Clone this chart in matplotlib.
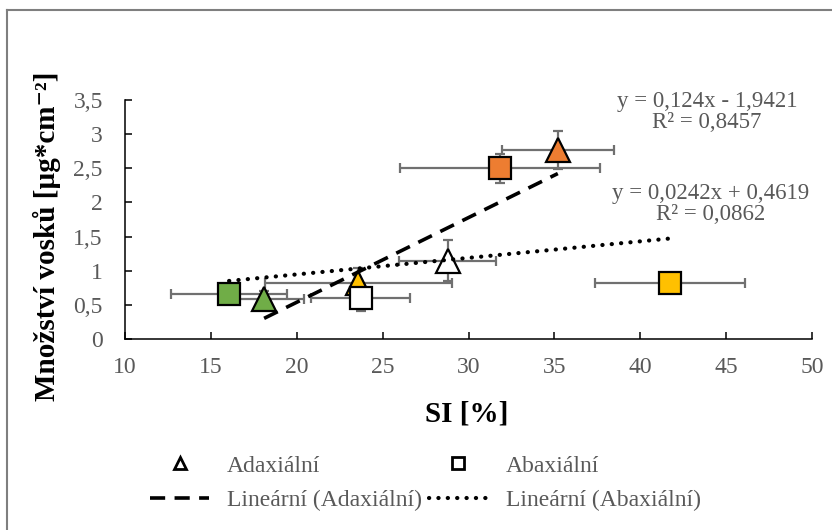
import matplotlib
matplotlib.use("Agg")
import matplotlib.pyplot as plt
from matplotlib.lines import Line2D
import numpy as np

# ---------------- data ----------------
ad_x = [18.1, 23.59, 28.78, 35.2]
ad_y = [0.586, 0.827, 1.145, 2.767]
ad_xerr = [2.34, 5.44, 2.84, 3.27]
ad_yerr = [0.12, 0.21, 0.30, 0.28]
ad_colors = ["#70AD47", "#FFC000", "#FFFFFF", "#ED7D31"]

ab_x = [16.06, 23.73, 31.85, 41.72]
ab_y = [0.654, 0.605, 2.499, 0.816]
ab_xerr = [3.40, 2.88, 5.83, 4.37]
ab_yerr = [0.10, 0.19, 0.21, 0.10]
ab_colors = ["#70AD47", "#FFFFFF", "#ED7D31", "#FFC000"]

ad_fit = [0.124, -1.9421]
ab_fit = [0.0242, 0.4619]
ad_eq = ["y = 0,124x - 1,9421", "R² = 0,8457"]
ab_eq = ["y = 0,0242x + 0,4619", "R² = 0,0862"]

x_ticks = [10, 15, 20, 25, 30, 35, 40, 45, 50]
y_ticks = [0, 0.5, 1, 1.5, 2, 2.5, 3, 3.5]
y_ticklabels = ["0", "0,5", "1", "1,5", "2", "2,5", "3", "3,5"]

xlabel = "SI [%]"
ylabel = "Množství vosků [µg*cm⁻²]"
legend_labels = ["Adaxiální", "Abaxiální", "Lineární (Adaxiální)", "Lineární (Abaxiální)"]

# ---------------- style ----------------
plt.rcParams["font.family"] = ["Liberation Serif", "DejaVu Serif"]

W, H = 832, 530
fig = plt.figure(figsize=(W / 100, H / 100), dpi=100)

def fx(px):
    return px / W

def fy(py):
    return 1 - py / H

ax = fig.add_axes([fx(125), fy(339), fx(812) - fx(125), fy(100) - fy(339)])
ax.set_xlim(10, 50)
ax.set_ylim(0, 3.5)

txt_gray = "#595959"
err_gray = "#707070"

# error bars
for xs, ys, xe, ye in [(ad_x, ad_y, ad_xerr, ad_yerr), (ab_x, ab_y, ab_xerr, ab_yerr)]:
    ax.errorbar(xs, ys, xerr=xe, yerr=ye, fmt="none", ecolor=err_gray,
                elinewidth=1.6, capsize=3.5, capthick=1.6, zorder=2)

# markers
for i in range(len(ad_x)):
    ax.plot(ad_x[i], ad_y[i], marker="^", ms=17, mfc=ad_colors[i], mec="black",
            mew=1.6, ls="none", zorder=3)
for i in range(len(ab_x)):
    ax.plot(ab_x[i], ab_y[i], marker="s", ms=15.5, mfc=ab_colors[i], mec="black",
            mew=1.6, ls="none", zorder=3)

# trendlines
xa = np.array([min(ad_x), max(ad_x)])
ax.plot(xa, ad_fit[0] * xa + ad_fit[1], color="black", lw=2.6,
        ls=(0, (4.2, 2.6)), zorder=4)
xb = np.array([min(ab_x), max(ab_x)])
ax.plot(xb, ab_fit[0] * xb + ab_fit[1], color="black", lw=3.0,
        ls=(0, (0.05, 2.2)), dash_capstyle="round", solid_capstyle="round", zorder=4)

# axes styling
for s in ["top", "right"]:
    ax.spines[s].set_visible(False)
for s in ["left", "bottom"]:
    ax.spines[s].set_color("black")
    ax.spines[s].set_linewidth(1.1)
ax.set_xticks(x_ticks)
ax.set_xticklabels([str(t) for t in x_ticks])
ax.set_yticks(y_ticks)
ax.set_yticklabels(y_ticklabels)
ax.tick_params(axis="x", direction="in", length=5, width=1.1, color="black",
               labelsize=17, labelcolor=txt_gray, pad=13)
ax.tick_params(axis="y", direction="in", length=5, width=1.1, color="black",
               labelsize=17, labelcolor=txt_gray, pad=16)
ax.patch.set_alpha(0)

# equations
fig.text(fx(707), fy(102), ad_eq[0], ha="center", va="center", fontsize=16.5, color=txt_gray)
fig.text(fx(707), fy(122), ad_eq[1], ha="center", va="center", fontsize=16.5, color=txt_gray)
fig.text(fx(711), fy(193), ab_eq[0], ha="center", va="center", fontsize=16.5, color=txt_gray)
fig.text(fx(711), fy(214), ab_eq[1], ha="center", va="center", fontsize=16.5, color=txt_gray)

# axis titles
fig.text(fx(467), fy(414), xlabel, ha="center", va="center", fontsize=21, fontweight="bold", color="black")
fig.text(fx(47), fy(236), ylabel, ha="center", va="center", rotation=90, fontsize=21,
         fontweight="bold", color="black")

# legend
handles = [
    Line2D([], [], marker="^", ms=8.5, mfc="white", mec="black", mew=2, ls="none"),
    Line2D([], [], color="black", lw=2.6, ls=(0, (4.2, 2.6))),
    Line2D([], [], marker="s", ms=8.5, mfc="white", mec="black", mew=2, ls="none"),
    Line2D([], [], color="black", lw=3.0, ls=(0, (0.05, 2.2)), dash_capstyle="round"),
]
labels = [legend_labels[0], legend_labels[2], legend_labels[1], legend_labels[3]]
leg = fig.legend(handles, labels, ncol=2, loc="upper left",
                 bbox_to_anchor=(fx(150), fy(455)), frameon=False, fontsize=17,
                 handlelength=2.5, handletextpad=0.75, columnspacing=0.3,
                 labelspacing=0.55, borderaxespad=0, borderpad=0)
for t in leg.get_texts():
    t.set_color(txt_gray)

# outer chart border (cropped on right/bottom)
border = "#7f7f7f"
fig.add_artist(Line2D([fx(7), fx(7)], [fy(10), 0], color=border, lw=1.5))
fig.add_artist(Line2D([fx(7), 1], [fy(10), fy(10)], color=border, lw=1.5))

fig.savefig("out.png", dpi=100)
